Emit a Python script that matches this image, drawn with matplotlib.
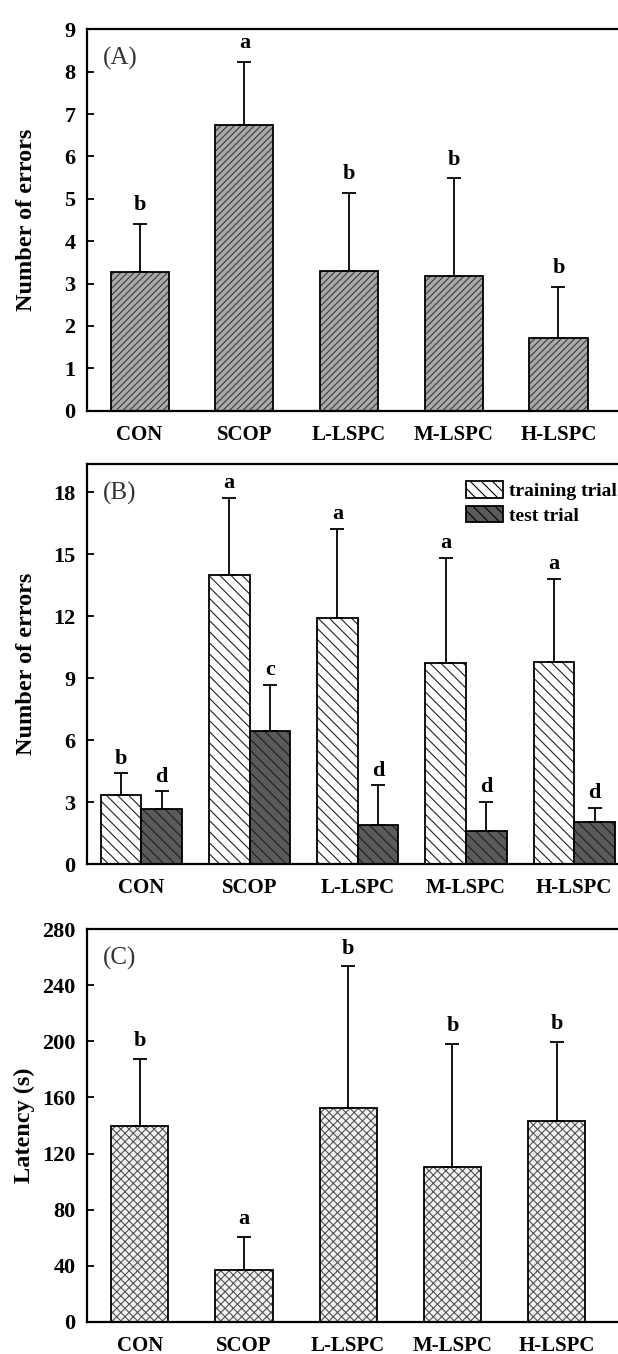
import numpy as np
import matplotlib
matplotlib.use("Agg")
import matplotlib.pyplot as plt
from matplotlib.patches import Patch

plt.rcParams['font.family'] = ['Liberation Serif', 'DejaVu Serif']
plt.rcParams['hatch.linewidth'] = 0.8

groups = ["CON", "SCOP", "L-LSPC", "M-LSPC", "H-LSPC"]

# Panel A: number of errors
a_mean = [3.28, 6.73, 3.30, 3.19, 1.72]
a_sd = [1.12, 1.50, 1.83, 2.29, 1.21]
a_sig = ["b", "a", "b", "b", "b"]

# Panel B: number of errors, training vs test trial
b_train_mean = [3.34, 14.0, 11.90, 9.72, 9.80]
b_train_sd = [1.05, 3.74, 4.34, 5.10, 4.00]
b_train_sig = ["b", "a", "a", "a", "a"]
b_test_mean = [2.68, 6.46, 1.91, 1.61, 2.02]
b_test_sd = [0.84, 2.21, 1.90, 1.39, 0.71]
b_test_sig = ["d", "c", "d", "d", "d"]

# Panel C: latency (s)
c_mean = [139.9, 36.9, 152.5, 110.6, 143.0]
c_sd = [47.6, 23.6, 101.0, 87.6, 56.7]
c_sig = ["b", "a", "b", "b", "b"]

W, H = 618, 1354
fig = plt.figure(figsize=(W / 100, H / 100), dpi=100)

left = 86.5 / W
width = 1.0 - left + 0.002


def ax_at(top_px, bot_px):
    return fig.add_axes([left, 1 - bot_px / H, width, (bot_px - top_px) / H])


def hatched_bars(ax, x, vals, w, face, hcol, hatch):
    ax.bar(x, vals, w, color=face, edgecolor=hcol, hatch=hatch, linewidth=0, zorder=2)
    ax.bar(x, vals, w, fill=False, edgecolor='black', linewidth=1.3, zorder=3)


def errs(ax, x, vals, sd):
    ax.errorbar(x, vals, yerr=[np.zeros(len(vals)), sd], fmt='none', ecolor='black',
                elinewidth=1.3, capsize=5, capthick=1.3, zorder=4)


def letters(ax, x, vals, sd, labs, off=9):
    for xi, v, s, l in zip(x, vals, sd, labs):
        ax.annotate(l, (xi, v + s), xytext=(0, off), textcoords='offset points',
                    ha='center', va='baseline', fontsize=16, fontweight='bold', zorder=5)


def style(ax, ylab, ticks, ylim, xlim, label_x, tag):
    ax.set_ylim(*ylim)
    ax.set_xlim(*xlim)
    ax.set_yticks(ticks)
    ax.set_yticklabels([str(t) for t in ticks], fontsize=16, fontweight='bold')
    ax.tick_params(axis='y', direction='in', length=5, width=1.3, pad=8)
    ax.tick_params(axis='x', length=0, pad=10)
    for lab in ax.get_xticklabels():
        lab.set_fontsize(15)
        lab.set_fontweight('bold')
    for sp in ['left', 'bottom', 'top']:
        ax.spines[sp].set_linewidth(1.6)
    ax.spines['right'].set_visible(False)
    ax.set_ylabel(ylab, fontsize=17.5, fontweight='bold')
    ax.yaxis.set_label_coords(label_x, 0.5)
    ax.text(0.031, 0.955, tag, transform=ax.transAxes, ha='left', va='top',
            fontsize=18, color='#333333')


# ---- Panel A ----
axA = ax_at(29.3, 410.7)
xA = np.arange(len(groups))
hatched_bars(axA, xA, a_mean, 0.555, '#a9a9a9', '#3a3a3a', '/////')
errs(axA, xA, a_mean, a_sd)
letters(axA, xA, a_mean, a_sd, a_sig, off=10)
axA.set_xticks(xA)
axA.set_xticklabels(groups)
style(axA, "Number of errors", list(range(0, 10)), (0, 9), (-0.507, 4.58), -0.093, "(A)")

# ---- Panel B ----
axB = ax_at(464, 864)
xB = np.arange(len(groups))
bw = 0.376
hatched_bars(axB, xB - bw / 2, b_train_mean, bw, 'white', '#222222', '\\\\\\')
hatched_bars(axB, xB + bw / 2, b_test_mean, bw, '#5a5a5a', '#1e1e1e', '\\\\\\')
errs(axB, xB - bw / 2, b_train_mean, b_train_sd)
errs(axB, xB + bw / 2, b_test_mean, b_test_sd)
letters(axB, xB - bw / 2, b_train_mean, b_train_sd, b_train_sig, off=7)
letters(axB, xB + bw / 2, b_test_mean, b_test_sd, b_test_sig, off=7)
axB.set_xticks(xB)
axB.set_xticklabels(groups)
style(axB, "Number of errors", list(range(0, 19, 3)), (0, 19.37), (-0.506, 4.416), -0.093, "(B)")
handles = [Patch(facecolor='white', edgecolor='black', hatch='\\\\\\', linewidth=1.3, label='training trial'),
           Patch(facecolor='#5a5a5a', edgecolor='black', hatch='\\\\\\', linewidth=1.3, label='test trial')]
leg = axB.legend(handles=handles, loc='upper left', bbox_to_anchor=(0.712, 0.958),
                 frameon=False, borderpad=0, borderaxespad=0, handlelength=1.9,
                 handleheight=0.95, handletextpad=0.3, labelspacing=0.3,
                 prop={'family': 'Liberation Serif', 'weight': 'bold', 'size': 14})

# ---- Panel C ----
axC = ax_at(929.3, 1321.7)
xC = np.arange(len(groups))
hatched_bars(axC, xC, c_mean, 0.55, '#f2f2f2', '#555555', 'xxxx')
errs(axC, xC, c_mean, c_sd)
letters(axC, xC, c_mean, c_sd, c_sig, off=9)
axC.set_xticks(xC)
axC.set_xticklabels(groups)
style(axC, "Latency (s)", list(range(0, 281, 40)), (0, 280), (-0.51, 4.6), -0.097, "(C)")

fig.savefig("out.png", dpi=100, facecolor='white')
